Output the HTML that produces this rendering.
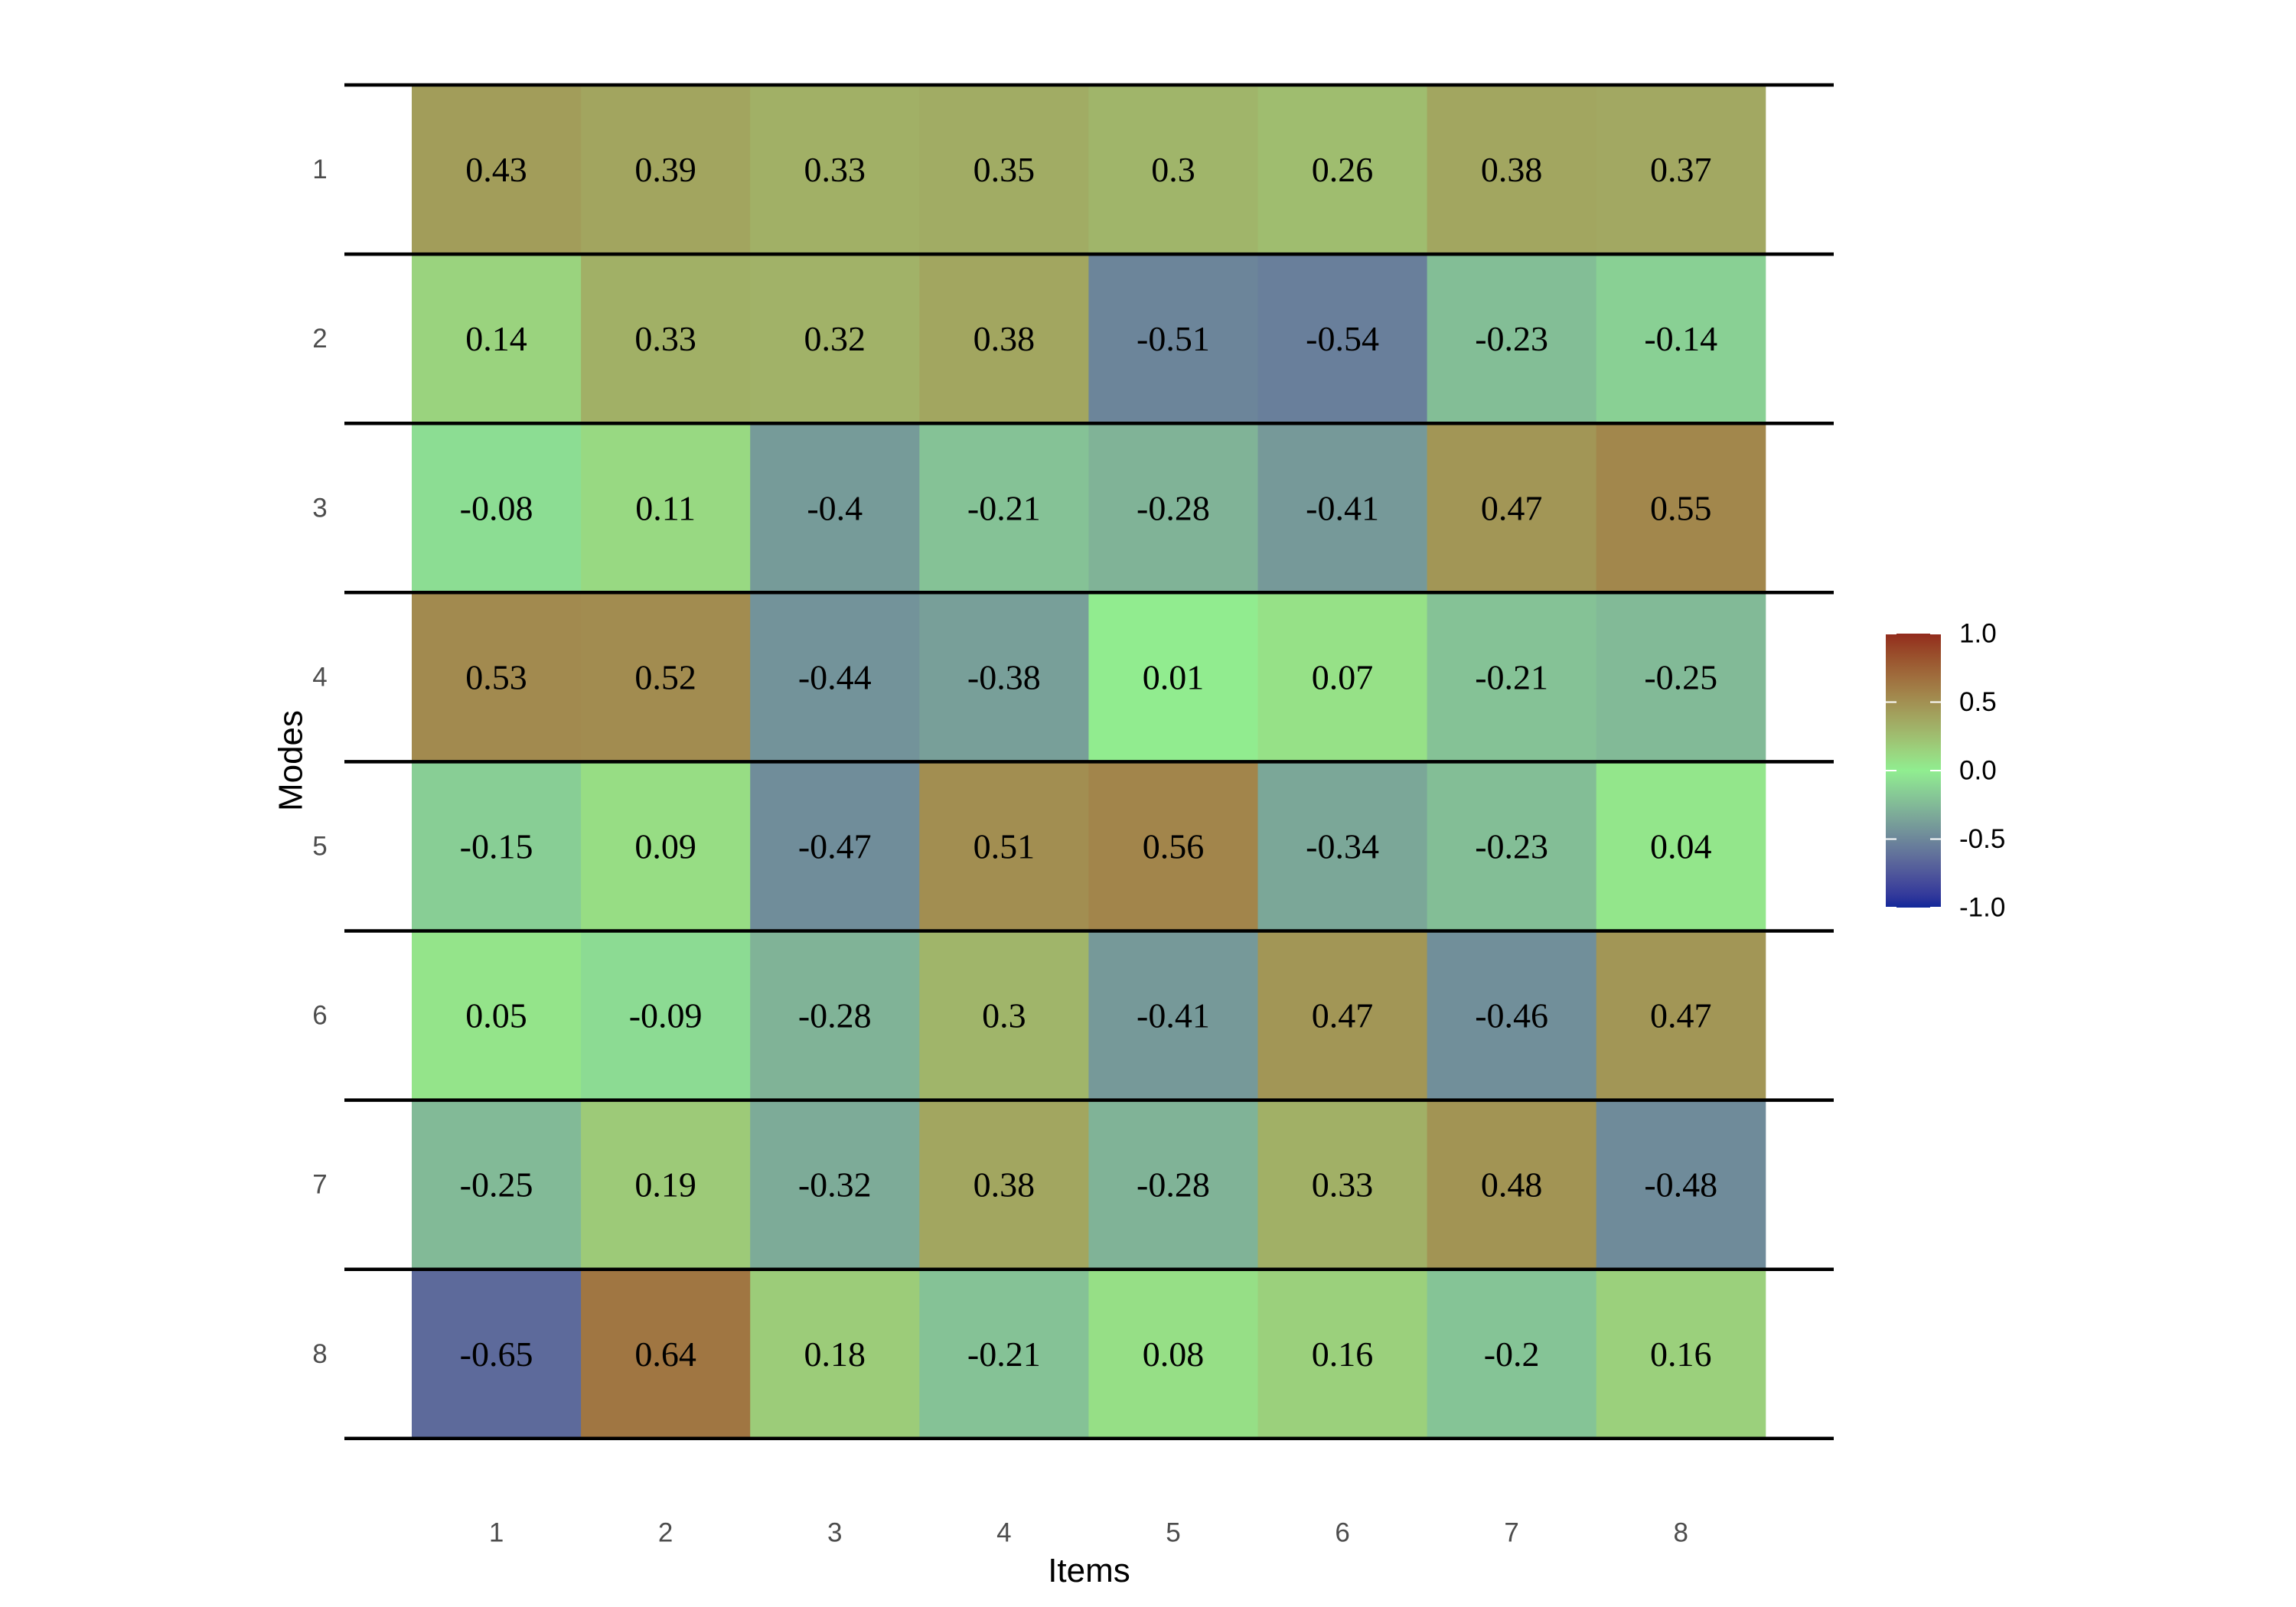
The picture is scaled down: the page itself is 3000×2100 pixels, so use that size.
<!DOCTYPE html>
<html><head><meta charset="utf-8"><style>
html,body{margin:0;padding:0;background:#fff;}
svg{display:block;}
</style></head><body>
<svg id="chart" width="3000" height="2100" xmlns="http://www.w3.org/2000/svg">
<rect x="0" y="0" width="3000" height="2100" fill="#ffffff"/>
<g id="cells"></g>
<g id="lines"></g>
<g id="labels"></g>
<g id="yticks"></g>
<g id="xticks"></g>
<text x="1423" y="2067" font-family="Liberation Sans, sans-serif" font-size="44" text-anchor="middle" fill="#000">Items</text>
<text x="0" y="0" transform="translate(380,994) rotate(-90)" font-family="Liberation Sans, sans-serif" font-size="44" text-anchor="middle" dominant-baseline="central" fill="#000">Modes</text>
<defs><linearGradient id="cbgrad" x1="0" y1="1" x2="0" y2="0"></linearGradient></defs>
<g id="legend"></g>
</svg>
<script>
const items = ["1","2","3","4","5","6","7","8"];
const modes = ["1","2","3","4","5","6","7","8"];
const row1 = [0.43,0.39,0.33,0.35,0.3,0.26,0.38,0.37];
const row2 = [0.14,0.33,0.32,0.38,-0.51,-0.54,-0.23,-0.14];
const row3 = [-0.08,0.11,-0.4,-0.21,-0.28,-0.41,0.47,0.55];
const row4 = [0.53,0.52,-0.44,-0.38,0.01,0.07,-0.21,-0.25];
const row5 = [-0.15,0.09,-0.47,0.51,0.56,-0.34,-0.23,0.04];
const row6 = [0.05,-0.09,-0.28,0.3,-0.41,0.47,-0.46,0.47];
const row7 = [-0.25,0.19,-0.32,0.38,-0.28,0.33,0.48,-0.48];
const row8 = [-0.65,0.64,0.18,-0.21,0.08,0.16,-0.2,0.16];
const values = [row1,row2,row3,row4,row5,row6,row7,row8];
const legendTicks = [-1.0,-0.5,0.0,0.5,1.0];
const legendTickLabels = ["-1.0","-0.5","0.0","0.5","1.0"];

const NS="http://www.w3.org/2000/svg";
const X0=538, Y0=111, CW=221.1, CH=221.1;
const xPos=i=>X0+i*CW;
const yPos=j=>Y0+j*CH;

function hex2rgb(h){return [parseInt(h.slice(1,3),16),parseInt(h.slice(3,5),16),parseInt(h.slice(5,7),16)];}
function lin(c){c/=255;return c<=0.04045?c/12.92:Math.pow((c+0.055)/1.055,2.4);}
function unlin(c){c=c<=0.0031308?12.92*c:1.055*Math.pow(c,1/2.4)-0.055;return Math.max(0,Math.min(255,Math.round(c*255)));}
function toLab(h){const [r,g,b]=hex2rgb(h).map(lin);
 let x=(r*0.4124+g*0.3576+b*0.1805)/0.95047,y=(r*0.2126+g*0.7152+b*0.0722),z=(r*0.0193+g*0.1192+b*0.9505)/1.08883;
 const f=t=>t>0.008856?Math.cbrt(t):7.787*t+16/116;
 const fx=f(x),fy=f(y),fz=f(z);return [116*fy-16,500*(fx-fy),200*(fy-fz)];}
function fromLab(L,a,b){const fy=(L+16)/116,fx=fy+a/500,fz=fy-b/200;
 const fi=t=>t*t*t>0.008856?t*t*t:(t-16/116)/7.787;
 const x=fi(fx)*0.95047,y=fi(fy),z=fi(fz)*1.08883;
 const r=x*3.2406+y*-1.5372+z*-0.4986,g=x*-0.9689+y*1.8758+z*0.0415,bb=x*0.0557+y*-0.2040+z*1.0570;
 return [unlin(r),unlin(g),unlin(bb)];}
const LOW=toLab("#10289a"),MID=toLab("#90EE90"),HIGH=toLab("#922a1c");
function color(v){v=Math.max(-1,Math.min(1,v));let A,B,t;
 if(v<0){A=MID;B=LOW;t=-v;}else{A=MID;B=HIGH;t=v;}
 const c=fromLab(A[0]+(B[0]-A[0])*t,A[1]+(B[1]-A[1])*t,A[2]+(B[2]-A[2])*t);
 return "rgb("+c.join(",")+")";}

const gc=document.getElementById('cells'),gl=document.getElementById('labels');
values.forEach((row,j)=>{row.forEach((v,i)=>{
 const r=document.createElementNS(NS,'rect');
 
 
 r.setAttribute('x',xPos(i));r.setAttribute('y',yPos(j));
 r.setAttribute('width',CW+0.5);r.setAttribute('height',CH+0.5);
 r.setAttribute('fill',color(v));gc.appendChild(r);
 const t=document.createElementNS(NS,'text');
 
 
 t.setAttribute('x',xPos(i)+CW/2);t.setAttribute('y',yPos(j)+CH/2);
 t.setAttribute('text-anchor','middle');t.setAttribute('dominant-baseline','central');
 t.setAttribute('font-family','Liberation Serif, serif');t.setAttribute('font-size','46');
 t.textContent=String(v);gl.appendChild(t);});});

const glines=document.getElementById('lines');
for(let j=0;j<=modes.length;j++){const l=document.createElementNS(NS,'line');
 
 
 l.setAttribute('x1',450);l.setAttribute('x2',2396);l.setAttribute('y1',yPos(j));l.setAttribute('y2',yPos(j));
 l.setAttribute('stroke','#000');l.setAttribute('stroke-width','4.5');glines.appendChild(l);}

const gy=document.getElementById('yticks');
modes.forEach((m,j)=>{const t=document.createElementNS(NS,'text');
 
 
 t.setAttribute('x',418);t.setAttribute('y',yPos(j)+CH/2);t.setAttribute('text-anchor','middle');
 t.setAttribute('dominant-baseline','central');t.setAttribute('font-family','Liberation Sans, sans-serif');
 t.setAttribute('font-size','35');t.setAttribute('fill','#4d4d4d');t.textContent=m;gy.appendChild(t);});
const gx=document.getElementById('xticks');
items.forEach((m,i)=>{const t=document.createElementNS(NS,'text');
 
 
 t.setAttribute('x',xPos(i)+CW/2);t.setAttribute('y',2003);t.setAttribute('text-anchor','middle');
 t.setAttribute('dominant-baseline','central');t.setAttribute('font-family','Liberation Sans, sans-serif');
 t.setAttribute('font-size','35');t.setAttribute('fill','#4d4d4d');t.textContent=m;gx.appendChild(t);});

// legend
const LX=2464,LW=72,LT=828,LB=1186;
const lyPos=v=>LB-(v+1)/2*(LB-LT);
const grad=document.getElementById('cbgrad');
for(let k=0;k<=40;k++){const v=-1+k/20;const s=document.createElementNS(NS,'stop');
 s.setAttribute('offset',(k/40*100)+'%');s.setAttribute('stop-color',color(v));grad.appendChild(s);}
const lg=document.getElementById('legend');
const bar=document.createElementNS(NS,'rect');


bar.setAttribute('x',LX);bar.setAttribute('y',LT);bar.setAttribute('width',LW);bar.setAttribute('height',LB-LT);
bar.setAttribute('fill','url(#cbgrad)');lg.appendChild(bar);
legendTicks.forEach((v,k)=>{const y=lyPos(v);
 [[LX,LX+14],[LX+LW-14,LX+LW]].forEach(p=>{const l=document.createElementNS(NS,'line');
  
  
  l.setAttribute('x1',p[0]);l.setAttribute('x2',p[1]);l.setAttribute('y1',y);l.setAttribute('y2',y);
  l.setAttribute('stroke','#fff');l.setAttribute('stroke-width','2');lg.appendChild(l);});
 const t=document.createElementNS(NS,'text');
 
 
 t.setAttribute('x',2560);t.setAttribute('y',y);t.setAttribute('dominant-baseline','central');
 t.setAttribute('font-family','Liberation Sans, sans-serif');t.setAttribute('font-size','35');
 t.setAttribute('fill','#000');t.textContent=legendTickLabels[k];lg.appendChild(t);});
</script>
</body></html>
